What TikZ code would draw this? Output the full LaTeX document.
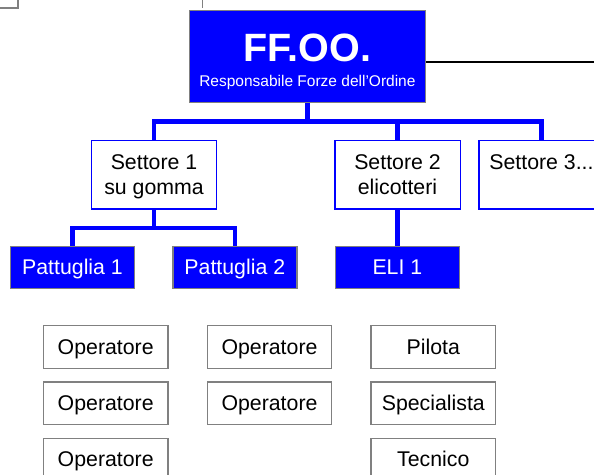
\documentclass[tikz,border=0pt]{standalone}
\usepackage{fontspec}
\setmainfont{Liberation Sans}
\usepackage{xcolor}
\usepackage{tikz}
\usetikzlibrary{positioning}

\definecolor{pureblue}{RGB}{0,0,255}
\definecolor{boxgray}{RGB}{128,128,128}

\begin{document}
\begin{tikzpicture}[
      x=1pt,y=1pt,
      basebox/.style={
         rectangle,
         draw=boxgray,
         line width=1.4pt,
         inner sep=0pt,
         align=center,
         text height=16pt,
         text depth=2pt,
         font=\fontsize{21.3}{25}\selectfont},
      headbox/.style={basebox, fill=pureblue, text=white,
         text height=, text depth=,
         minimum width=236pt, minimum height=91.6pt},
      sectorbox/.style={basebox, draw=pureblue, fill=white,
         text height=41pt,
         minimum width=125.4pt, minimum height=68.3pt},
      unitbox/.style={basebox, fill=pureblue, text=white,
         minimum width=124pt, minimum height=41.6pt},
      crewbox/.style={basebox, fill=white,
         minimum width=124.3pt, minimum height=42.6pt},
      treeline/.style={draw=pureblue, line width=4.5pt},
      fragment/.style={draw=boxgray, line width=1.4pt},
      node distance=12.4pt and 38.1pt
      ]
\useasboundingbox (0,0) rectangle (594,-474);
\clip (0,0) rectangle (594,-474);

\node[headbox ] (ff) at (307.4,-56.5)
   {{\fontsize{39.5}{39.5}\selectfont\bfseries\rule{0pt}{39pt}FF.OO.}\\
    {\fontsize{15.5}{18}\selectfont Responsabile Forze dell'Ordine}};

\node[sectorbox] (s1) at (154,-174.9)   {Settore 1\\su gomma};
\node[sectorbox] (s2) at (397.5,-174.9) {Settore 2\\elicotteri};
\node[sectorbox] (s3) at (541.5,-174.9) {Settore 3...\\\strut};

\node[unitbox  ] (p1)  at (72.5,-267.5)  {Pattuglia 1};
\node[unitbox  ] (p2)  at (234.8,-267.5) {Pattuglia 2};
\node[unitbox  ] (eli) at (397.4,-267.5) {ELI 1};

\node[crewbox  ] (op1) at (105.7,-347) {Operatore};
\node[crewbox,below=of op1] (op2) {Operatore};
\node[crewbox,below=of op2] (op3) {Operatore};

\node[crewbox,right=of op1] (op4) {Operatore};
\node[crewbox,below=of op4] (op5) {Operatore};

\node[crewbox,right=of op4] (pil) {Pilota};
\node[crewbox,below=of pil] (spe) {Specialista};
\node[crewbox,below=of spe] (tec) {Tecnico};

\foreach \i/\j in {% parent/child
      ff/s1,ff/s2,ff/s3}
       \draw[treeline] (\i.south) -- ++(0,-18.7) -| (\j.north);

\foreach \i/\j in {% parent/child
      s1/p1,s1/p2,s2/eli}
       \draw[treeline] (\i.south) -- ++(0,-18) -| (\j.north);

% line leaving to the right
\coordinate (rightend) at (594,-61.7);
\draw[line width=1.8pt] (ff.east |- rightend) -- (rightend);

% bits of shapes cut by the top edge
\coordinate (cornerA) at (17.8,0);
\coordinate (cornerB) at (202.6,0);
\draw[fragment] (0,-8) -| (cornerA);
\draw[fragment] (cornerB) -- ++(0,-8);

\end{tikzpicture}
\end{document}
